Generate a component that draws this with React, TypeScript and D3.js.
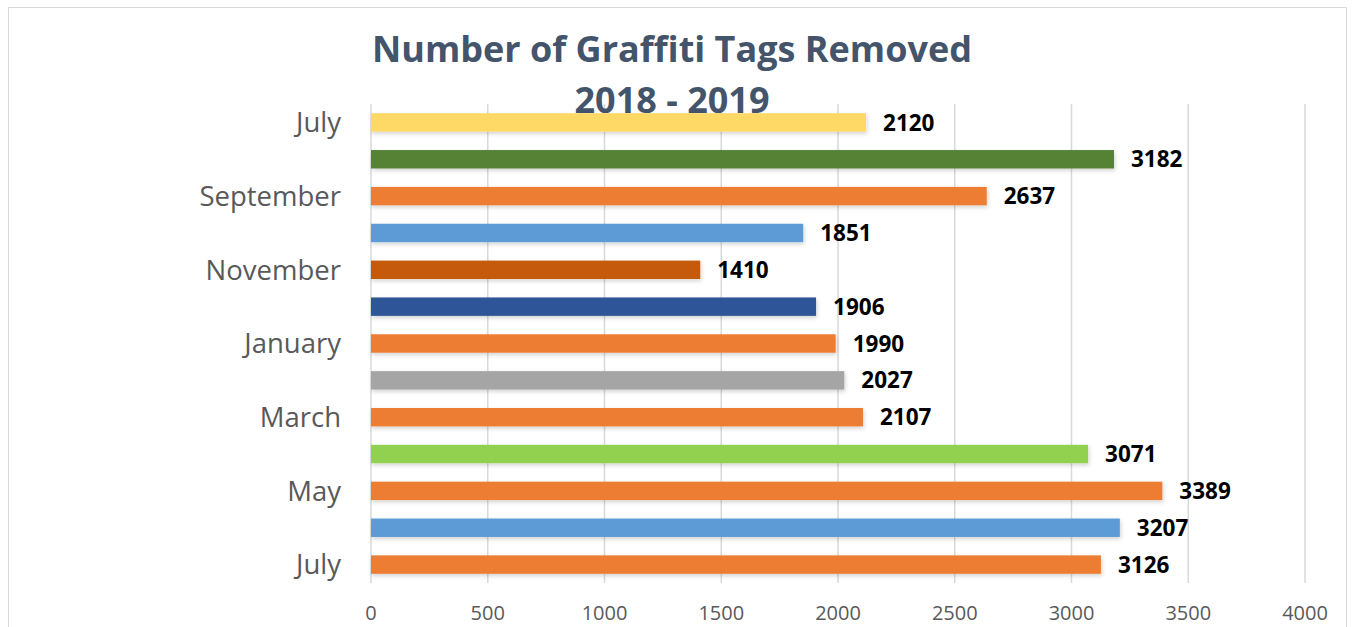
import React from "react";
import * as d3 from "d3";

const categories = ["July", "August", "September", "October", "November", "December", "January", "February", "March", "April", "May", "June", "July "];
const values = [2120, 3182, 2637, 1851, 1410, 1906, 1990, 2027, 2107, 3071, 3389, 3207, 3126];
const barColors = ["#FFD966", "#548235", "#ED7D31", "#5B9BD5", "#C55A11", "#2F5597", "#ED7D31", "#A5A5A5", "#ED7D31", "#92D050", "#ED7D31", "#5B9BD5", "#ED7D31"];
const shownLabels = [true, false, true, false, true, false, true, false, true, false, true, false, true];
const xTicks = [0, 500, 1000, 1500, 2000, 2500, 3000, 3500, 4000];
const titleLines = ["Number of Graffiti Tags Removed", "2018 - 2019"];

const W = 1353;
const H = 627;
const FONT = "'Open Sans', Lato, sans-serif";

export default function App() {
  const x = d3.scaleLinear().domain([0, 4000]).range([371, 1305]);
  const y = d3.scaleBand<number>().domain(d3.range(categories.length)).range([104, 583]).paddingInner(0.5).paddingOuter(0.25);

  return (
    <svg width={W} height={H} style={{ position: "absolute", left: 0, top: 0 }}>
      <defs>
        <filter id="sh" x="-5%" y="-50%" width="110%" height="200%">
          <feDropShadow dx="1" dy="2" stdDeviation="2" floodColor="#000" floodOpacity="0.18" />
        </filter>
      </defs>
      <rect x={0} y={0} width={W} height={H} fill="#fff" />
      <rect x={8.5} y={7.5} width={1338} height={640} fill="#fff" stroke="#d9d9d9" strokeWidth={1} />
      {xTicks.map((t) => (
        <line key={t} x1={x(t)} x2={x(t)} y1={104} y2={583} stroke="#d9d9d9" strokeWidth={1.5} />
      ))}
      {titleLines.map((l, i) => (
        <text key={"ti" + i} x={672} y={62 + i * 51} textAnchor="middle" fontFamily={FONT} fontWeight={700} fontSize={36} fill="#44546A">
          {l}
        </text>
      ))}
      {values.map((v, i) => (
        <rect key={i} x={x(0)} y={y(i)!} width={x(v) - x(0)} height={y.bandwidth()} fill={barColors[i]} filter="url(#sh)" />
      ))}
      {values.map((v, i) => (
        <text key={"v" + i} x={x(v) + 17} y={y(i)! + y.bandwidth() / 2} dy="0.36em" fontFamily={FONT} fontWeight={700} fontSize={22.5} fill="#000">
          {v}
        </text>
      ))}
      {categories.map((c, i) =>
        shownLabels[i] ? (
          <text key={"c" + i} x={341} y={y(i)! + y.bandwidth() / 2} dy="0.36em" textAnchor="end" fontFamily={FONT} fontSize={27.5} fill="#595959">
            {c.trim()}
          </text>
        ) : null
      )}
      {xTicks.map((t) => (
        <text key={"t" + t} x={x(t)} y={613} dy="0.36em" textAnchor="middle" fontFamily={FONT} fontSize={20} fill="#595959">
          {t}
        </text>
      ))}
    </svg>
  );
}
